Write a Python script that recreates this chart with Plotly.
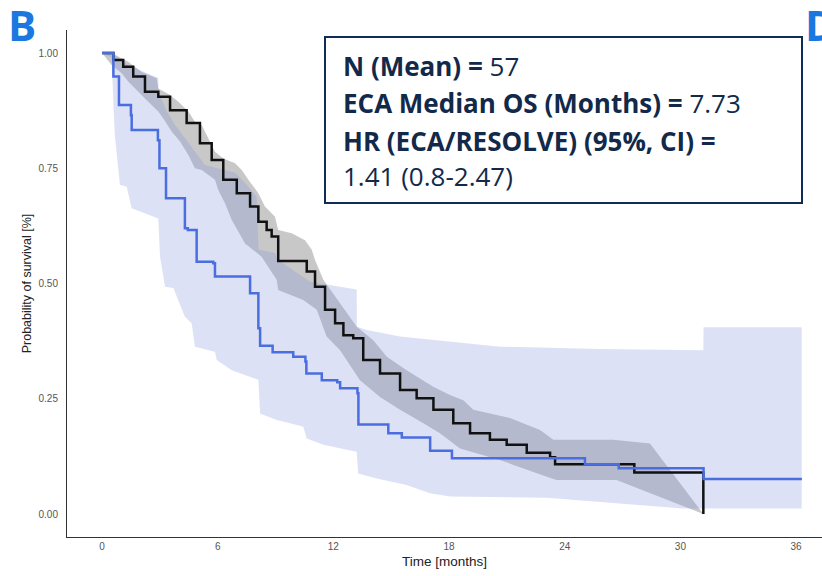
import plotly.graph_objects as go

# ---------------- data ----------------
# ECA (black step curve)
eca_t = [0, 0.59, 1.10, 1.62, 2.23, 2.92, 3.53, 4.39, 5.08, 5.69, 6.29, 6.99, 7.68, 8.11,
         8.54, 8.80, 9.14, 10.62, 11.05, 11.57, 12.09, 12.52, 13.03, 13.55, 14.42, 15.46,
         16.32, 17.19, 18.22, 19.09, 20.12, 20.99, 22.03, 23.24, 23.50, 27.61, 31.19]
eca_s = [1.0, 0.985, 0.970, 0.949, 0.916, 0.905, 0.876, 0.848, 0.804, 0.768, 0.725, 0.696,
         0.667, 0.634, 0.616, 0.602, 0.549, 0.526, 0.493, 0.443, 0.414, 0.388, 0.381, 0.334,
         0.305, 0.269, 0.251, 0.226, 0.197, 0.175, 0.161, 0.150, 0.133, 0.123, 0.108, 0.090, 0.0]

# ECA confidence band
eca_up_t = [0, 0.67, 1.36, 2.06, 2.84, 2.92, 3.53, 3.96, 4.48, 4.82, 5.17, 5.51, 5.86, 6.29,
            6.90, 7.25, 7.59, 8.11, 8.45, 8.97, 9.14, 9.84, 10.53, 10.88, 11.05, 11.48, 13.21,
            14.07, 14.77, 15.80, 17.18, 18.05, 18.74, 19.26, 21.16, 22.72, 23.41, 26.52, 28.42, 31.19]
eca_up_s = [1.0, 0.996, 0.981, 0.959, 0.945, 0.923, 0.909, 0.894, 0.873, 0.851, 0.844, 0.815,
            0.786, 0.771, 0.761, 0.746, 0.725, 0.696, 0.667, 0.645, 0.616, 0.609, 0.594, 0.573,
            0.551, 0.508, 0.406, 0.377, 0.341, 0.312, 0.276, 0.258, 0.247, 0.226, 0.208, 0.182,
            0.161, 0.161, 0.153, 0.0]
eca_lo_t = [0, 0.50, 1.02, 1.36, 1.88, 2.40, 2.92, 3.18, 3.62, 4.05, 4.48, 4.82, 5.17, 5.86,
            6.03, 6.38, 6.73, 7.42, 8.28, 9.06, 9.14, 10.44, 11.14, 11.65, 12.34, 13.38, 14.42,
            15.46, 16.67, 17.53, 18.57, 20.64, 23.07, 23.58, 26.69, 31.19]
eca_lo_s = [1.0, 0.974, 0.956, 0.938, 0.916, 0.894, 0.873, 0.858, 0.829, 0.808, 0.779, 0.750,
            0.746, 0.725, 0.703, 0.674, 0.638, 0.587, 0.558, 0.508, 0.486, 0.464, 0.443, 0.385,
            0.356, 0.290, 0.254, 0.226, 0.197, 0.175, 0.142, 0.117, 0.081, 0.074, 0.074, 0.0]

# RESOLVE (blue step curve)
res_t = [0, 0.59, 0.88, 1.50, 1.54, 2.90, 2.98, 3.32, 4.30, 4.45, 4.91, 5.77, 5.86, 7.68,
         8.11, 8.20, 8.85, 9.92, 10.55, 10.60, 11.40, 12.20, 12.35, 13.25, 13.30, 14.85,
         15.55, 17.02, 18.15, 25.05, 26.80, 31.20, 36.30]
res_s = [1.0, 0.949, 0.887, 0.865, 0.833, 0.811, 0.750, 0.685, 0.620, 0.616, 0.547, 0.544,
         0.515, 0.479, 0.403, 0.365, 0.351, 0.341, 0.331, 0.305, 0.290, 0.286, 0.273, 0.262,
         0.194, 0.175, 0.166, 0.137, 0.121, 0.108, 0.099, 0.076, 0.076]

# RESOLVE confidence band
res_up_t = [0, 0.52, 1.35, 2.92, 2.93, 3.36, 3.79, 4.30, 4.82, 5.34, 6.90, 7.42, 8.02, 8.12,
            8.97, 9.13, 10.79, 13.21, 13.22, 13.73, 15.46, 20.64, 25.83, 31.19, 31.20, 36.29]
res_up_s = [1.0, 1.0, 0.974, 0.946, 0.916, 0.873, 0.844, 0.816, 0.786, 0.757, 0.740, 0.718,
            0.688, 0.573, 0.566, 0.551, 0.504, 0.487, 0.406, 0.399, 0.385, 0.363, 0.358, 0.355,
            0.405, 0.405]
res_lo_t = [0, 0.50, 0.52, 0.60, 0.67, 0.85, 0.93, 1.28, 1.54, 2.92, 3.01, 3.27, 3.70, 4.30,
            4.65, 4.82, 5.86, 5.95, 6.73, 8.11, 8.20, 9.06, 9.75, 10.44, 10.62, 11.48, 13.21,
            13.29, 14.25, 15.80, 17.01, 18.05, 23.07, 30.13, 36.29]
res_lo_s = [1.0, 0.99, 0.95, 0.88, 0.82, 0.746, 0.714, 0.710, 0.663, 0.641, 0.558, 0.493,
            0.490, 0.428, 0.414, 0.363, 0.352, 0.334, 0.312, 0.291, 0.218, 0.204, 0.197, 0.189,
            0.164, 0.150, 0.135, 0.088, 0.077, 0.063, 0.045, 0.038, 0.035, 0.012, 0.012]

x_ticks = [0, 6, 12, 18, 24, 30, 36]
y_ticks = [0, 0.25, 0.5, 0.75, 1.0]
y_tick_text = ["0.00", "0.25", "0.50", "0.75", "1.00"]

info_lines = [("N (Mean) =", " 57"),
              ("ECA Median OS (Months) =", " 7.73"),
              ("HR (ECA/RESOLVE) (95%, CI) =", ""),
              ("", "1.41 (0.8-2.47)")]

# ---------------- figure ----------------
W, H = 822, 576
L, R, T, B = 67, 0, 30, 39
pw, ph = W - L - R, H - T - B

def px(xp):
    return (xp - L) / pw

def py(yp):
    return (H - B - yp) / ph

fig = go.Figure()

fig.add_trace(go.Scatter(
    x=eca_up_t + eca_lo_t[::-1], y=eca_up_s + eca_lo_s[::-1],
    fill="toself", fillcolor="rgba(200,200,200,1)", line=dict(width=0),
    mode="lines", hoverinfo="skip", showlegend=False))

fig.add_trace(go.Scatter(
    x=res_up_t + res_lo_t[::-1], y=res_up_s + res_lo_s[::-1],
    fill="toself", fillcolor="rgba(126,144,218,0.27)", line=dict(width=0),
    mode="lines", hoverinfo="skip", showlegend=False))

fig.add_trace(go.Scatter(
    x=eca_t, y=eca_s, mode="lines", line=dict(color="#111111", width=2.5, shape="hv"),
    showlegend=False))

fig.add_trace(go.Scatter(
    x=res_t, y=res_s, mode="lines", line=dict(color="#4a6ee0", width=2.5, shape="hv"),
    showlegend=False))

fig.update_layout(
    width=W, height=H,
    margin=dict(l=L, r=R, t=T, b=B, autoexpand=False),
    paper_bgcolor="white", plot_bgcolor="white",
    font=dict(family="Liberation Sans, Arial, sans-serif"),
    xaxis=dict(range=[(L - 102) / 19.28, (W - 102) / 19.28], tickvals=x_ticks,
               automargin=False,
               showgrid=False, zeroline=False, showline=True, linecolor="#333333",
               linewidth=1, ticks="", tickfont=dict(size=10, color="#555555"),
               title=dict(text="Time [months]", font=dict(size=13.5, color="#222222"),
                          standoff=5)),
    yaxis=dict(range=[-0.0499, 1.0499], tickvals=y_ticks, ticktext=y_tick_text,
               automargin=False, ticklabelstandoff=6,
               showgrid=False, zeroline=False, showline=True, linecolor="#333333",
               linewidth=1, ticks="", tickfont=dict(size=10, color="#555555"),
               title=dict(text="Probability of survival [%]",
                          font=dict(size=12.5, color="#222222"), standoff=4)),
)

# info box
fig.add_shape(type="rect", xref="paper", yref="paper",
              x0=px(325), x1=px(802), y0=py(203), y1=py(37),
              line=dict(color="#0f2d52", width=2), fillcolor="white", layer="above")

line_y = [66, 103, 141, 176]
for (bold, normal), yp in zip(info_lines, line_y):
    txt = ""
    if bold:
        txt += "<b>" + bold + "</b>"
    txt += normal
    fig.add_annotation(xref="paper", yref="paper", x=px(341), y=py(yp),
                       xanchor="left", yanchor="middle", showarrow=False,
                       text=txt, font=dict(family="Open Sans", size=26, color="#12294a"))

# panel letters
fig.add_annotation(xref="paper", yref="paper", x=px(6), y=py(25), xanchor="left",
                   yanchor="middle", showarrow=False, text="<b>B</b>",
                   font=dict(family="Open Sans", size=42, color="#1a78e0"))
fig.add_annotation(xref="paper", yref="paper", x=px(803), y=py(25), xanchor="left",
                   yanchor="middle", showarrow=False, text="<b>D</b>",
                   font=dict(family="Open Sans", size=42, color="#1a78e0"))

fig.write_html("out.html",
               config={"displayModeBar": False},
               post_script="document.body.style.margin='0';"
                           "document.body.style.overflow='hidden';")
